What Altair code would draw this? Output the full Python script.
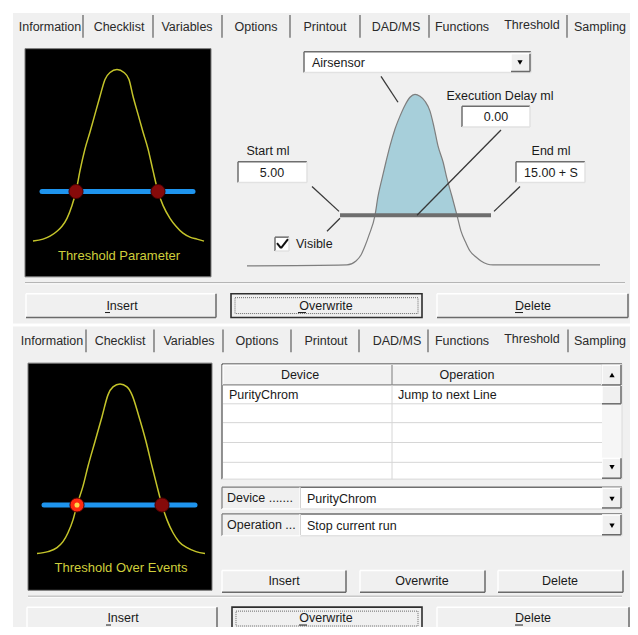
import altair as alt
import pandas as pd

# ------------------------------------------------------------------
# Values (pixel layout of dialog)
# ------------------------------------------------------------------
TAB_LABELS = ["Information", "Checklist", "Variables", "Options", "Printout",
              "DAD/MS", "Functions", "Threshold", "Sampling"]
TAB_X_TOP = [50, 119, 187, 256, 325, 396, 462, 532, 600]
TAB_Y_TOP = [27, 27, 27, 27, 27, 27, 27, 25, 27]
TAB_X_BOTTOM = [52, 120, 189, 257, 326, 397, 462, 532, 600]
TAB_Y_BOTTOM = [344, 344, 344, 344, 344, 344, 344, 342, 344]
TAB_SEP_X_TOP = [83, 153, 222, 290, 360, 429, 567, 633]
TAB_SEP_X_BOTTOM = [86, 154, 223, 291, 359, 428, 568, 633]
TAB_SEP_Y_TOP = [15, 38]
TAB_SEP_Y_BOTTOM = [332, 355]

# boxes: x, x2, y, y2
PANELS = [(13, 634, 13, 326), (13, 634, 329, 635)]
SCREENS = [(25, 211, 49, 279), (28, 212, 366, 595)]
FIELDS = [(304, 531, 52, 73), (462, 530, 107, 128), (238, 307, 163, 184),
          (516, 585, 163, 184), (275, 289, 239, 253), (222, 622, 367, 483),
          (300, 622, 491, 513), (300, 622, 518, 540)]
LABEL_CELLS = [(222, 300, 491, 513), (222, 300, 518, 540)]
HEADER_CELLS = [(223, 392, 368, 388), (392, 602, 368, 388)]
SCROLL_TRACK = [(602, 621, 368, 482)]
BUTTONS = [(26, 216, 296, 320), (437, 628, 296, 320), (511, 530, 54, 72),
           (602, 621, 368, 388), (602, 621, 462, 482), (602, 621, 389, 407),
           (602, 621, 492, 512), (602, 621, 519, 539),
           (222, 346, 575, 597), (360, 485, 575, 597), (498, 623, 575, 597),
           (27, 217, 612, 634), (437, 629, 612, 634)]
DEFAULT_BUTTONS = [(231, 422, 296, 320), (232, 422, 612, 634)]
FOCUS_RECTS = [(235, 418, 300, 316), (236, 418, 616, 631)]

# segments: kind, x, x2, y, y2
SEGMENTS = (
    [("leader", 381, 398, 77, 103), ("leader", 501, 417, 131, 217),
     ("leader", 312, 339, 188, 213), ("leader", 327, 340, 233, 220),
     ("leader", 520, 494, 188, 213),
     ("thresh", 340, 491, 217, 217),
     ("blue", 42, 193, 193, 193), ("blue", 44, 195, 509, 509),
     ("sep", 25, 625, 285, 285), ("sep", 28, 622, 601, 601),
     ("hi", 25, 625, 286, 286), ("hi", 28, 622, 602, 602),
     ("border", 634, 634, 40, 326), ("border", 633, 633, 355, 635),
     ("grid", 223, 602, 407, 407), ("grid", 223, 602, 426, 426),
     ("grid", 223, 602, 446, 446), ("grid", 223, 602, 466, 466),
     ("grid", 392, 392, 388, 483),
     ("check", 277, 281, 245, 250), ("check", 281, 288, 250, 241),
     ("underline", 105, 110, 315, 315), ("underline", 298, 306, 315, 315),
     ("underline", 515, 523, 315, 315), ("underline", 106, 111, 630, 630),
     ("underline", 299, 307, 630, 630), ("underline", 515, 523, 630, 630)]
    + [("tabsep", x, x, TAB_SEP_Y_TOP[0], TAB_SEP_Y_TOP[1]) for x in TAB_SEP_X_TOP]
    + [("tabsep", x, x, TAB_SEP_Y_BOTTOM[0], TAB_SEP_Y_BOTTOM[1]) for x in TAB_SEP_X_BOTTOM]
)

# curves
YELLOW_TOP_X = [33, 43, 50, 57, 62, 67, 72, 76, 80, 85, 90, 95, 100, 105, 110, 117,
                124, 129, 133, 138, 143, 148, 153, 158, 163, 170, 176, 183, 190, 197, 204]
YELLOW_TOP_Y = [243, 241, 238, 233, 228, 220, 207, 193, 172, 150, 133, 115, 97, 80, 73, 70,
                73, 80, 97, 115, 133, 150, 172, 193, 207, 220, 228, 235, 239, 241, 243]
YELLOW_BOTTOM_X = [37, 48, 57, 63, 68, 73, 77, 83, 88, 95, 102, 108, 113, 120,
                   127, 132, 139, 146, 152, 157, 162, 167, 173, 179, 187, 196, 205]
YELLOW_BOTTOM_Y = [558, 556, 552, 546, 537, 524, 509, 490, 470, 445, 420, 398, 390, 387,
                   390, 398, 420, 445, 470, 490, 509, 524, 537, 546, 552, 556, 558]
SENSOR_X = [247, 347, 356, 361, 365, 369, 375, 378, 382, 386, 390, 395, 400, 405, 410, 415,
            420, 425, 430, 434, 438, 443, 447, 452, 457, 461, 466, 470, 476, 481, 493, 600]
SENSOR_Y = [268, 267, 263, 257, 248, 237, 217, 198, 180, 163, 147, 130, 117, 106, 98, 95,
            97, 102, 112, 128, 147, 163, 180, 198, 217, 233, 245, 253, 259, 263, 267, 267]
THRESHOLD_LEVEL = 217

DOT_X = [76, 158, 77, 162]
DOT_Y = [193, 193, 509, 509]
DOT_KIND = ["off", "off", "on", "off"]

ARROWS = [("down", 520, 63), ("up", 612, 378), ("down", 612, 471),
          ("down", 612, 503), ("down", 612, 530)]

CENTER_TEXTS = [
    ("Threshold Parameter", 119, 258, "yellow"),
    ("Threshold Over Events", 121, 573, "yellow"),
    ("Execution Delay ml", 500, 97, "ui"), ("0.00", 496, 118, "ui"),
    ("Start ml", 268, 152, "ui"), ("5.00", 272, 174, "ui"),
    ("End ml", 551, 152, "ui"), ("15.00 + S", 551, 174, "ui"),
    ("Insert", 122, 308, "ui"), ("Overwrite", 326, 308, "ui"), ("Delete", 533, 308, "ui"),
    ("Device", 300, 378, "ui"), ("Operation", 467, 378, "ui"),
    ("Insert", 284, 586, "ui"), ("Overwrite", 422, 586, "ui"), ("Delete", 560, 586, "ui"),
    ("Insert", 123, 623, "ui"), ("Overwrite", 326, 623, "ui"), ("Delete", 533, 623, "ui"),
]
LEFT_TEXTS = [
    ("Airsensor", 312, 63), ("Visible", 296, 246),
    ("PurityChrom", 229, 398), ("Jump to next Line", 398, 398),
    ("Device .......", 227, 502), ("PurityChrom", 307, 503),
    ("Operation ...", 227, 529), ("Stop current run", 307, 530),
]

# ------------------------------------------------------------------
# the page adds an 8px margin, so the visible window spans 8..630 x 8..627;
# the vertical range is squeezed very slightly so the last button row stays visible
XS = alt.Scale(domain=[8, 630], nice=False, zero=False)
YS = alt.Scale(domain=[632, 8], nice=False, zero=False)
FONT = "Liberation Sans"


def X(f):
    return alt.X(f, type="quantitative", scale=XS, axis=None)


def Y(f):
    return alt.Y(f, type="quantitative", scale=YS, axis=None, stack=None)


def box_df(rows):
    return pd.DataFrame(rows, columns=["x", "x2", "y", "y2"])


def rect_layer(rows, fill, stroke=None, sw=1, fill_opacity=1, dash=None):
    kw = dict(fill=fill, fillOpacity=fill_opacity, strokeWidth=sw)
    if stroke:
        kw["stroke"] = stroke
    else:
        kw["strokeWidth"] = 0
    if dash:
        kw["strokeDash"] = dash
    return alt.Chart(box_df(rows)).mark_rect(**kw).encode(
        x=X("x"), x2="x2", y=Y("y"), y2="y2")


def edge_layers(rows, tl_color, br_color, w=1):
    d = box_df(rows)
    base = alt.Chart(d)
    return [
        base.mark_rule(color=tl_color, strokeWidth=w).encode(x=X("x"), x2="x2", y=Y("y")),
        base.mark_rule(color=tl_color, strokeWidth=w).encode(x=X("x"), y=Y("y"), y2="y2"),
        base.mark_rule(color=br_color, strokeWidth=w).encode(x=X("x"), x2="x2", y=Y("y2")),
        base.mark_rule(color=br_color, strokeWidth=w).encode(x=X("x2"), y=Y("y"), y2="y2"),
    ]


seg_df = pd.DataFrame(SEGMENTS, columns=["kind", "x", "x2", "y", "y2"])


def seg_layer(kind, color, width, cap="butt"):
    return (alt.Chart(seg_df).transform_filter(alt.datum.kind == kind)
            .mark_rule(color=color, strokeWidth=width, strokeCap=cap)
            .encode(x=X("x"), x2="x2", y=Y("y"), y2="y2"))


curve_df = pd.concat([
    pd.DataFrame({"curve": "ytop", "i": range(len(YELLOW_TOP_X)), "x": YELLOW_TOP_X, "y": YELLOW_TOP_Y}),
    pd.DataFrame({"curve": "ybot", "i": range(len(YELLOW_BOTTOM_X)), "x": YELLOW_BOTTOM_X, "y": YELLOW_BOTTOM_Y}),
], ignore_index=True)
sensor_df = pd.DataFrame({"i": range(len(SENSOR_X)), "x": SENSOR_X, "y": SENSOR_Y})
fill_df = sensor_df[sensor_df["y"] <= THRESHOLD_LEVEL].copy()
fill_df["base"] = THRESHOLD_LEVEL

yellow_curves = (alt.Chart(curve_df)
                 .mark_line(color="#c4c42a", strokeWidth=1.5, interpolate="monotone")
                 .encode(x=X("x"), y=Y("y"), detail="curve:N", order="i:Q"))
sensor_fill = (alt.Chart(fill_df)
               .mark_area(fill="#a7cfda", interpolate="monotone", opacity=1, orient="vertical")
               .encode(x=X("x"), y=Y("y"), y2=alt.Y2("base")))
sensor_line = (alt.Chart(sensor_df)
               .mark_line(color="#7e7e7e", strokeWidth=1.2, interpolate="monotone")
               .encode(x=X("x"), y=Y("y"), order="i:Q"))

dot_df = pd.DataFrame({"x": DOT_X, "y": DOT_Y, "kind": DOT_KIND})
dots = (alt.Chart(dot_df).mark_circle(size=200, opacity=1, stroke="#4a0000", strokeWidth=1)
        .encode(x=X("x"), y=Y("y"),
                fill=alt.Fill("kind:N", scale=alt.Scale(domain=["off", "on"],
                                                        range=["#860a0a", "#ff2a10"]), legend=None)))
glint = (alt.Chart(dot_df).transform_filter(alt.datum.kind == "on")
         .mark_circle(size=26, color="#ffd84a", opacity=1)
         .encode(x=X("x"), y=Y("y")))

arrow_df = pd.DataFrame(ARROWS, columns=["dir", "x", "y"])
arrows = (alt.Chart(arrow_df).mark_point(filled=True, color="#000000", size=28, opacity=1)
          .encode(x=X("x"), y=Y("y"),
                  shape=alt.Shape("dir:N", scale=alt.Scale(domain=["down", "up"],
                                                           range=["triangle-down", "triangle-up"]),
                                  legend=None)))

tab_df = pd.concat([
    pd.DataFrame({"t": TAB_LABELS, "x": TAB_X_TOP, "y": TAB_Y_TOP}),
    pd.DataFrame({"t": TAB_LABELS, "x": TAB_X_BOTTOM, "y": TAB_Y_BOTTOM}),
], ignore_index=True)
tabs = (alt.Chart(tab_df).mark_text(font=FONT, fontSize=12.5, color="#2a2a2a",
                                    align="center", baseline="middle")
        .encode(x=X("x"), y=Y("y"), text="t:N"))

ctext_df = pd.DataFrame(CENTER_TEXTS, columns=["t", "x", "y", "kind"])
ctext_ui = (alt.Chart(ctext_df).transform_filter(alt.datum.kind == "ui")
            .mark_text(font=FONT, fontSize=12.5, color="#1a1a1a", align="center", baseline="middle")
            .encode(x=X("x"), y=Y("y"), text="t:N"))
ctext_y = (alt.Chart(ctext_df).transform_filter(alt.datum.kind == "yellow")
           .mark_text(font=FONT, fontSize=13, color="#cfcf3c", align="center", baseline="middle")
           .encode(x=X("x"), y=Y("y"), text="t:N"))
ltext_df = pd.DataFrame(LEFT_TEXTS, columns=["t", "x", "y"])
ltext = (alt.Chart(ltext_df)
         .mark_text(font=FONT, fontSize=12.5, color="#1a1a1a", align="left", baseline="middle")
         .encode(x=X("x"), y=Y("y"), text="t:N"))

layers = [
    rect_layer(PANELS, "#f0f0f0"),
    rect_layer(SCREENS, "#000000", stroke="#7a7a7a"),
    rect_layer(FIELDS, "#ffffff"),
    *edge_layers(FIELDS, "#6e6e6e", "#e2e2e2", 1.5),
    rect_layer(SCROLL_TRACK, "#f6f6f6"),
    rect_layer(LABEL_CELLS, "#f0f0f0"),
    *edge_layers(LABEL_CELLS, "#7a7a7a", "#ffffff", 1.2),
    rect_layer(HEADER_CELLS, "#f2f2f2"),
    *edge_layers(HEADER_CELLS, "#ffffff", "#8a8a8a", 1.2),
    rect_layer(BUTTONS, "#f0f0f0"),
    *edge_layers(BUTTONS, "#ffffff", "#6a6a6a", 1.5),
    rect_layer(DEFAULT_BUTTONS, "#f0f0f0", stroke="#2e2e2e", sw=1.6),
    rect_layer(FOCUS_RECTS, "#f0f0f0", stroke="#6a6a6a", sw=1, fill_opacity=0, dash=[1, 1]),
    seg_layer("sep", "#a0a0a0", 1),
    seg_layer("hi", "#ffffff", 1),
    seg_layer("border", "#7a7a7a", 1.5),
    seg_layer("tabsep", "#5e5e5e", 1.2),
    seg_layer("grid", "#d6d6d6", 1),
    seg_layer("underline", "#1a1a1a", 1),
    seg_layer("check", "#111111", 2),
    sensor_fill,
    sensor_line,
    seg_layer("thresh", "#6e6e6e", 4),
    seg_layer("leader", "#383838", 1.3),
    seg_layer("blue", "#1e94ee", 5, cap="round"),
    yellow_curves,
    dots,
    glint,
    arrows,
    tabs,
    ctext_ui,
    ctext_y,
    ltext,
]

chart = (alt.layer(*layers)
         .properties(width=622, height=619, padding=0, autosize="none", background="#ffffff")
         .configure_view(stroke=None))

chart.save("out.html", embed_options={"renderer": "svg", "actions": False})
